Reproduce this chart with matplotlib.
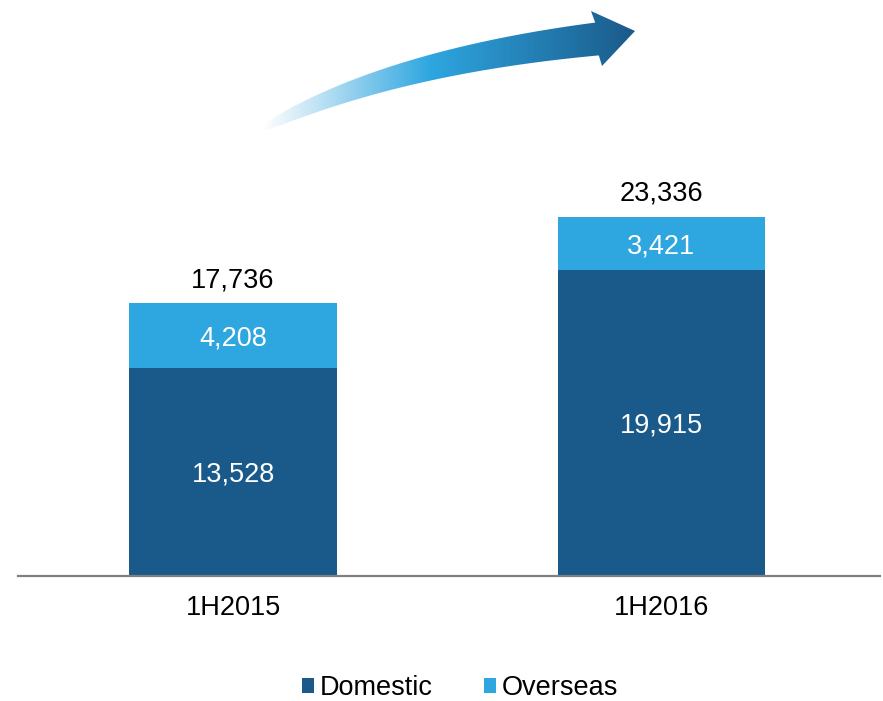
import numpy as np
import matplotlib
matplotlib.use("Agg")
import matplotlib.pyplot as plt
from matplotlib.patches import Patch, Polygon
from matplotlib.colors import LinearSegmentedColormap

plt.rcParams['font.family'] = ['Liberation Sans', 'DejaVu Sans']

# Data
periods = ["1H2015", "1H2016"]
domestic = [13528, 19915]
overseas = [4208, 3421]
series_names = ["Domestic", "Overseas"]

DOM_COLOR = "#1a5a8a"
OVS_COLOR = "#2ea6e0"
FS = 19.5

W, H = 883, 701
fig = plt.figure(figsize=(W / 100, H / 100), dpi=100)

# Main bar axes (pixel-aligned)
ax = fig.add_axes([18 / W, 1 - 576 / H, (880 - 18) / W, 576 / H])
x = np.arange(len(periods))
totals = [d + o for d, o in zip(domestic, overseas)]
bw = 0.485
ax.bar(x, domestic, width=bw, color=DOM_COLOR, zorder=2)
ax.bar(x, overseas, width=bw, bottom=domestic, color=OVS_COLOR, zorder=2)

ax.set_xlim(-0.502, 1.51)
ax.set_ylim(0, 37440)

for xi, d, o, t in zip(x, domestic, overseas, totals):
    ax.annotate(f"{d:,}", (xi, d / 2), xytext=(0, -10), textcoords="offset pixels",
                ha="center", va="baseline", color="white", fontsize=FS)
    ax.annotate(f"{o:,}", (xi, d + o / 2), xytext=(0, -10), textcoords="offset pixels",
                ha="center", va="baseline", color="white", fontsize=FS)
    ax.annotate(f"{t:,}", (xi, t), xytext=(0, 16), textcoords="offset pixels",
                ha="center", va="baseline", color="black", fontsize=FS)

for side in ["top", "right", "left"]:
    ax.spines[side].set_visible(False)
ax.spines["bottom"].set_color("#808080")
ax.spines["bottom"].set_linewidth(1.6)
ax.set_yticks([])
ax.set_xticks(x)
ax.set_xticklabels(periods, fontsize=FS)
ax.tick_params(axis="x", length=0, pad=14)

# Legend
handles = [Patch(facecolor=DOM_COLOR), Patch(facecolor=OVS_COLOR)]
fig.legend(handles, series_names, loc="center", bbox_to_anchor=(460 / W, 1 - 688 / H),
           ncol=2, frameon=False, fontsize=FS, handlelength=0.45, handleheight=0.45,
           handletextpad=0.22, columnspacing=1.9, borderpad=0.1)

# Decorative growth arrow with a gradient fill
ov = fig.add_axes([0, 0, 1, 1], zorder=3)
ov.set_xlim(0, W)
ov.set_ylim(H, 0)
ov.axis("off")
ov.patch.set_alpha(0)

t = np.linspace(0, 1, 80)
p0, p1, p2 = np.array([262, 129]), np.array([390, 62]), np.array([597, 39])
cx = (1 - t) ** 2 * p0[0] + 2 * (1 - t) * t * p1[0] + t ** 2 * p2[0]
cy = (1 - t) ** 2 * p0[1] + 2 * (1 - t) * t * p1[1] + t ** 2 * p2[1]
dx = 2 * (1 - t) * (p1[0] - p0[0]) + 2 * t * (p2[0] - p1[0])
dy = 2 * (1 - t) * (p1[1] - p0[1]) + 2 * t * (p2[1] - p1[1])
nrm = np.hypot(dx, dy)
nx, ny = -dy / nrm, dx / nrm
half = 1.0 + 15.5 * np.sqrt(t)
upper = np.column_stack([cx - nx * half, cy - ny * half])
lower = np.column_stack([cx + nx * half, cy + ny * half])
head = np.array([[591, 11], [635, 31], [602, 66]])
pts = np.vstack([upper, head[:1], head[1:2], head[2:], lower[::-1]])
poly = Polygon(pts, closed=True, facecolor="none", edgecolor="none")
ov.add_patch(poly)

cmap = LinearSegmentedColormap.from_list(
    "arrow", [(0.0, "#ffffff"), (0.15, "#bfe2f5"), (0.45, "#2ea6e0"), (1.0, "#1a5a8a")])
grad = np.linspace(0, 1, 256)[None, :]
im = ov.imshow(grad, cmap=cmap, extent=[262, 636, 135, 8], aspect="auto", zorder=3,
               interpolation="bilinear")
im.set_clip_path(poly)
ov.set_xlim(0, W)
ov.set_ylim(H, 0)

fig.savefig("out.png", dpi=100)
